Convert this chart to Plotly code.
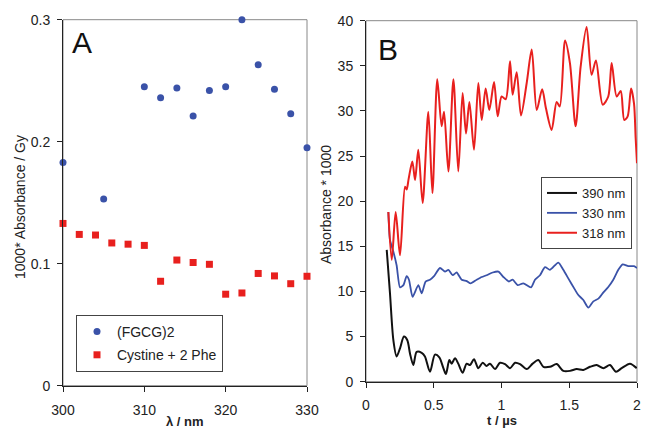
import plotly.graph_objects as go

# ---------- Panel A data ----------
wl_fgcg = [300, 305, 310, 312, 314, 316, 318, 320, 322, 324, 326, 328, 330]
abs_fgcg = [0.183, 0.153, 0.245, 0.236, 0.244, 0.221, 0.242, 0.245, 0.300, 0.263, 0.243, 0.223, 0.195]
wl_cys = [300, 302, 304, 306, 308, 310, 312, 314, 316, 318, 320, 322, 324, 326, 328, 330]
abs_cys = [0.133, 0.124, 0.1235, 0.117, 0.116, 0.115, 0.0856, 0.103, 0.101, 0.0995, 0.075, 0.076, 0.092, 0.090, 0.0836, 0.0897]

# ---------- Panel B data ----------
t_318 = [0.165, 0.19, 0.219, 0.251, 0.288, 0.30, 0.315, 0.342, 0.362, 0.386, 0.418, 0.46, 0.49, 0.526,
         0.558, 0.576, 0.608, 0.645, 0.681, 0.713, 0.738, 0.763, 0.797, 0.829, 0.854, 0.883, 0.910,
         0.945, 0.972, 1.001, 1.031, 1.063, 1.082, 1.112, 1.144, 1.186, 1.223, 1.26, 1.30, 1.328,
         1.37, 1.407, 1.43, 1.469, 1.505, 1.547, 1.584, 1.628, 1.665, 1.697, 1.747, 1.788, 1.813,
         1.85, 1.88, 1.906, 1.931, 1.956, 1.978, 1.99, 2.0]
a_318 = [18.8, 13.5, 18.8, 14.0, 21.6, 21.3, 22.5, 24.4, 22.35, 25.7, 19.8, 29.9, 20.9, 33.5,
         28.3, 29.9, 23.3, 33.5, 23.3, 32.0, 27.5, 31.0, 25.7, 33.1, 29.0, 32.5, 30.1,
         33.2, 29.4, 31.6, 31.3, 35.5, 31.8, 34.3, 29.5, 33.1, 36.8, 30.1, 32.4, 30.3,
         27.9, 31.0, 30.5, 37.8, 35.3, 28.3, 34.9, 39.3, 34.0, 35.6, 30.7, 31.6, 35.3,
         31.6, 32.2, 29.0, 29.4, 32.5, 30.8, 27.0, 24.2]

t_330 = [0.165, 0.177, 0.202, 0.226, 0.251, 0.276, 0.30, 0.317, 0.344, 0.386, 0.411, 0.44, 0.472,
         0.502, 0.546, 0.583, 0.608, 0.64, 0.669, 0.706, 0.743, 0.772, 0.817, 0.854, 0.89, 0.935,
         0.977, 1.014, 1.055, 1.082, 1.119, 1.161, 1.218, 1.247, 1.284, 1.321, 1.358, 1.419,
         1.456, 1.493, 1.542, 1.567, 1.604, 1.641, 1.678, 1.715, 1.752, 1.788, 1.825, 1.862,
         1.894, 1.936, 1.978, 2.0]
a_330 = [18.8, 15.7, 14.4, 12.9, 10.45, 10.7, 11.7, 11.3, 9.4, 10.7, 9.8, 11.1, 11.3,
         11.7, 12.6, 12.2, 12.4, 11.8, 12.1, 11.3, 11.15, 10.9, 11.3, 11.6, 11.8, 12.1,
         12.2, 11.6, 11.1, 11.3, 10.7, 10.9, 10.45, 11.3, 11.8, 12.7, 12.4, 13.2,
         12.4, 11.45, 10.2, 9.6, 9.05, 8.2, 8.9, 9.2, 9.9, 10.5, 11.3, 12.4,
         13.0, 12.8, 12.8, 12.6]

t_390 = [0.153, 0.177, 0.202, 0.226, 0.251, 0.28, 0.305, 0.325, 0.349, 0.374, 0.411, 0.435, 0.472,
         0.509, 0.541, 0.571, 0.59, 0.615, 0.632, 0.657, 0.681, 0.713, 0.743, 0.768, 0.797, 0.829,
         0.861, 0.89, 0.915, 0.952, 0.989, 1.026, 1.063, 1.1, 1.137, 1.186, 1.23, 1.272, 1.309,
         1.358, 1.407, 1.456, 1.506, 1.555, 1.604, 1.653, 1.702, 1.752, 1.8, 1.845, 1.887,
         1.948, 1.998]
a_390 = [14.6, 9.8, 4.6, 2.8, 3.7, 5.0, 4.6, 3.1, 1.85, 3.3, 3.2, 2.8, 1.1,
         3.0, 2.7, 1.5, 0.85, 2.4, 2.0, 2.6, 2.0, 1.0, 2.0, 1.85, 2.5, 1.5,
         2.1, 1.75, 2.0, 1.4, 2.1, 1.95, 1.5, 2.1, 1.95, 1.4, 2.0, 2.4, 1.65,
         1.65, 1.95, 1.2, 1.2, 1.4, 1.3, 1.65, 1.85, 1.5, 1.85, 1.1, 1.5,
         2.0, 1.5]

FONT = "Arial, Liberation Sans, sans-serif"
BLUE = "#3a52a8"
RED = "#e8201e"
W, H = 645, 430


def px2x(p):
    return p / W


def px2y(p):
    return 1 - p / H


fig = go.Figure()

fig.add_trace(go.Scatter(x=wl_fgcg, y=abs_fgcg, mode="markers", name="(FGCG)2",
                         marker=dict(symbol="circle", size=7, color=BLUE),
                         xaxis="x", yaxis="y", legend="legend", legendgroup="a1",
                         cliponaxis=False))
fig.add_trace(go.Scatter(x=wl_cys, y=abs_cys, mode="markers", name="Cystine + 2 Phe",
                         marker=dict(symbol="square", size=7, color=RED),
                         xaxis="x", yaxis="y", legend="legend", legendgroup="a2",
                         cliponaxis=False))

fig.add_trace(go.Scatter(x=t_390, y=a_390, mode="lines", name="390 nm",
                         line=dict(color="#111111", width=2, shape="spline", smoothing=0.8),
                         xaxis="x2", yaxis="y2", legend="legend2"))
fig.add_trace(go.Scatter(x=t_330, y=a_330, mode="lines", name="330 nm",
                         line=dict(color=BLUE, width=1.8, shape="spline", smoothing=0.6),
                         xaxis="x2", yaxis="y2", legend="legend2"))
fig.add_trace(go.Scatter(x=t_318, y=a_318, mode="lines", name="318 nm",
                         line=dict(color=RED, width=2, shape="spline", smoothing=0.8),
                         xaxis="x2", yaxis="y2", legend="legend2"))

# plot-area geometry (pixels)
A_L, A_R, A_T, A_B = 63, 307, 19.7, 385.7
B_L, B_R, B_T, B_B = 366, 637, 20.7, 381.7

axis_common = dict(showgrid=False, zeroline=False, showline=True, linecolor="#222222",
                   linewidth=1, ticks="outside", ticklen=5, tickcolor="#222222",
                   tickfont=dict(family=FONT, size=14, color="#222222"), automargin=False,
                   ticklabeloverflow="allow")


def ann(text, x, y, size, angle=0, color="#222222"):
    return dict(text=text, x=px2x(x), y=px2y(y), xref="paper", yref="paper",
                xanchor="center", yanchor="middle", showarrow=False, textangle=angle,
                font=dict(family=FONT, size=size, color=color))


fig.update_layout(
    width=W, height=H,
    margin=dict(l=0, r=0, t=0, b=0),
    paper_bgcolor="white", plot_bgcolor="white",
    font=dict(family=FONT, color="#222222"),
    xaxis=dict(domain=[px2x(A_L), px2x(A_R)], range=[300, 330], tickvals=[300, 310, 320, 330],
               anchor="y", ticklabelstandoff=6, **axis_common),
    yaxis=dict(domain=[px2y(A_B), px2y(A_T)], range=[0, 0.3], tickvals=[0, 0.1, 0.2, 0.3],
               anchor="x", ticklabelstandoff=4, **axis_common),
    xaxis2=dict(domain=[px2x(B_L), px2x(B_R)], range=[0, 2], tickvals=[0, 0.5, 1, 1.5, 2],
                anchor="y2", ticklabelstandoff=5, **axis_common),
    yaxis2=dict(domain=[px2y(B_B), px2y(B_T)], range=[0, 40], tickvals=list(range(0, 45, 5)),
                anchor="x2", ticklabelstandoff=4, **axis_common),
    legend=dict(x=px2x(76), y=px2y(315), xanchor="left", yanchor="top",
                bordercolor="#444444", borderwidth=1, bgcolor="white",
                font=dict(family=FONT, size=14, color="#222222"),
                tracegroupgap=2, itemwidth=30),
    legend2=dict(x=px2x(541), y=px2y(177), xanchor="left", yanchor="top",
                 bordercolor="#444444", borderwidth=1, bgcolor="white",
                 font=dict(family=FONT, size=13, color="#222222"),
                 tracegroupgap=0, itemwidth=30),
    showlegend=True,
    shapes=[
        dict(type="rect", xref="paper", yref="paper", x0=px2x(A_L), x1=px2x(A_R),
             y0=px2y(A_B), y1=px2y(A_T), line=dict(color="#888888", width=1), layer="below"),
        dict(type="rect", xref="paper", yref="paper", x0=px2x(B_L), x1=px2x(B_R),
             y0=px2y(B_B), y1=px2y(B_T), line=dict(color="#888888", width=1), layer="below"),
    ],
    annotations=[
        ann("A", 82, 43, 30, color="#111111"),
        ann("B", 388, 49, 30, color="#111111"),
        ann("1000* Absorbance / Gy", 20, 207, 14, angle=-90),
        ann("<b>λ / nm</b>", 185, 421, 13),
        ann("Absorbance * 1000", 326, 205, 14, angle=-90),
        ann("<b>t / µs</b>", 502, 420, 13),
    ],
)

fig.write_html("out.html", config={"displayModeBar": False},
               post_script="document.body.style.margin='0px';document.body.style.overflow='hidden';")
